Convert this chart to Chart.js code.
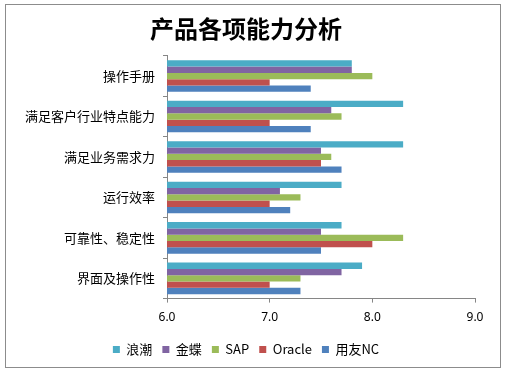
<!DOCTYPE html>
<html>
<head>
<meta charset="utf-8">
<script src="https://cdn.jsdelivr.net/npm/chart.js@4/dist/chart.umd.min.js"></script>
<style>
  html, body { margin: 0; padding: 0; background: #fff; }
  #box { position: absolute; left: 5px; top: 4px; width: 494px; height: 362px; border: 1px solid #8c8c8c; }
  #wrap { position: absolute; left: 0; top: 0; width: 505px; height: 376px; }
</style>
</head>
<body>
<div id="box"></div>
<div id="wrap"><canvas id="myChart" width="505" height="376"></canvas></div>
<script>
// categories top to bottom
const categories = ['操作手册', '满足客户行业特点能力', '满足业务需求力', '运行效率', '可靠性、稳定性', '界面及操作性'];
const langchao = [7.8, 8.3, 8.3, 7.7, 7.7, 7.9];
const jindie = [7.8, 7.6, 7.5, 7.1, 7.5, 7.7];
const sap = [8.0, 7.7, 7.6, 7.3, 8.3, 7.3];
const oracle = [7.0, 7.0, 7.5, 7.0, 8.0, 7.0];
const yonyou = [7.4, 7.4, 7.7, 7.2, 7.5, 7.3];
const seriesNames = ['浪潮', '金蝶', 'SAP', 'Oracle', '用友NC'];
const colors = ['#4BACC6', '#8064A2', '#9BBB59', '#C0504D', '#4F81BD'];

const renderChart = () => {
    var ctx = document.getElementById('myChart').getContext('2d');
    var values = [langchao, jindie, sap, oracle, yonyou];
    var myChart = new Chart(ctx, {
        type: 'bar',
        data: {
            labels: categories,
            datasets: values.map((v, i) => ({
                label: seriesNames[i],
                data: v,
                backgroundColor: colors[i],
                borderWidth: 0,
                categoryPercentage: 0.78,
                barPercentage: 1.0
            }))
        },
        options: {
            indexAxis: 'y',
            responsive: false,
            animation: false,
            layout: { padding: { left: 17, right: 30, top: 7, bottom: 10 } },
            scales: {
                x: {
                    min: 6, max: 9,
                    ticks: {
                        stepSize: 1,
                        color: '#000',
                        font: { size: 12, family: 'Noto Sans' },
                        padding: 8,
                        callback: (v) => Number(v).toFixed(1)
                    },
                    grid: { drawOnChartArea: false, tickLength: 4, color: '#868686' },
                    border: { color: '#868686' }
                },
                y: {
                    ticks: {
                        color: '#000',
                        font: { size: 13, family: 'Noto Sans CJK SC' },
                        padding: 8
                    },
                    grid: { drawOnChartArea: false, offset: true, tickLength: 4, color: '#868686' },
                    border: { color: '#868686' }
                }
            },
            plugins: {
                title: {
                    display: true,
                    text: '产品各项能力分析',
                    color: '#000',
                    font: { size: 24, weight: 'bold', family: 'Noto Sans CJK SC' },
                    padding: { top: 7, bottom: 13 }
                },
                legend: {
                    position: 'bottom',
                    labels: {
                        boxWidth: 7,
                        boxHeight: 7,
                        color: '#000',
                        font: { size: 13, family: 'Noto Sans CJK SC' },
                        padding: 10
                    }
                },
                tooltip: { enabled: false }
            }
        }
    });
};
renderChart();
</script>
</body>
</html>
